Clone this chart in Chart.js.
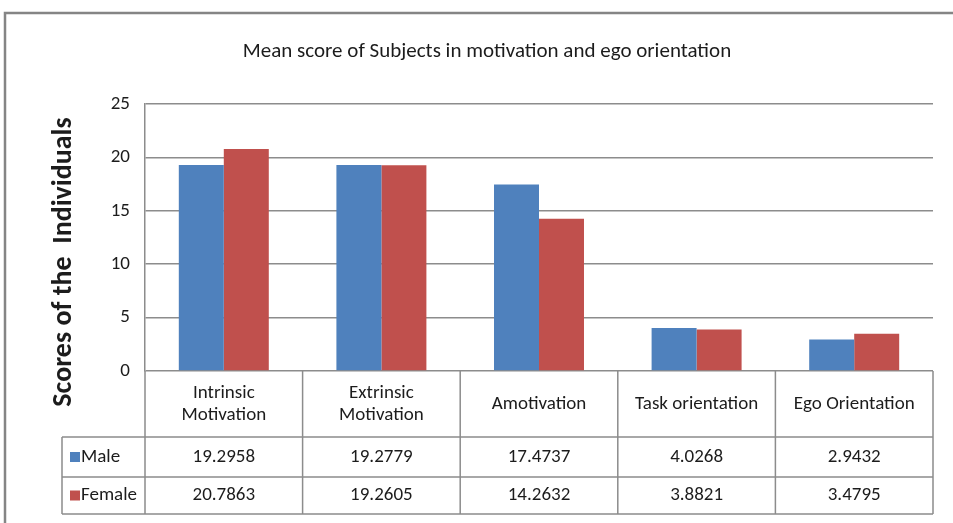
<!DOCTYPE html>
<html>
<head>
<meta charset="utf-8">
<script src="https://cdn.jsdelivr.net/npm/chart.js@4/dist/chart.umd.min.js"></script>
<style>
  html, body { margin: 0; padding: 0; background: #fff; }
  #wrap { position: relative; width: 953px; height: 523px; }
  canvas { display: block; }
</style>
</head>
<body>
<div id="wrap"><canvas id="c" width="953" height="523"></canvas></div>
<script>
// Data
const categories = [["Intrinsic", "Motivation"], ["Extrinsic", "Motivation"], ["Amotivation"], ["Task orientation"], ["Ego Orientation"]];
const maleScores = [19.2958, 19.2779, 17.4737, 4.0268, 2.9432];
const femaleScores = [20.7863, 19.2605, 14.2632, 3.8821, 3.4795];
const seriesNames = ["Male", "Female"];
const yTickValues = [0, 5, 10, 15, 20, 25];
const chartTitle = "Mean score of Subjects in motivation and ego orientation";
const yAxisTitle = "Scores of the  Individuals";

const seriesColors = ["#4F81BD", "#C0504D"];
const FONT = 'Carlito, "Open Sans", "Noto Sans", sans-serif';
const TEXT = "#1c1c1c";
const LINE = "#8c8c8c";

// Frame, title, y-axis title and the data table under the plot
const decorations = {
  id: "decorations",
  beforeDraw(chart) {
    const ctx = chart.ctx;
    ctx.save();
    ctx.strokeStyle = "#858585";
    ctx.lineWidth = 2.5;
    ctx.beginPath();
    ctx.moveTo(5, 523); ctx.lineTo(5, 13); ctx.lineTo(953, 13);
    ctx.stroke();
    ctx.restore();
  },
  afterDraw(chart) {
    const { ctx, chartArea: a } = chart;
    const xs = chart.scales.x;
    const n = categories.length;
    const step = (a.right - a.left) / n;
    const edges = [];
    for (let i = 0; i <= n; i++) edges.push(i < n ? xs.getPixelForValue(i) - step / 2 : xs.getPixelForValue(n - 1) + step / 2);
    const legendLeft = 62;
    const rowY = [a.bottom, a.bottom + 66, a.bottom + 106, a.bottom + 143];

    ctx.save();
    // title
    ctx.fillStyle = TEXT;
    ctx.font = "21px " + FONT;
    ctx.textAlign = "center";
    ctx.textBaseline = "middle";
    ctx.fillText(chartTitle, 487, 52);

    // y-axis title
    ctx.save();
    ctx.translate(64, 262);
    ctx.rotate(-Math.PI / 2);
    ctx.font = "bold 28px " + FONT;
    ctx.fillText(yAxisTitle, 0, 0);
    ctx.restore();

    // table grid
    ctx.strokeStyle = LINE;
    ctx.lineWidth = 1.5;
    ctx.beginPath();
    edges.forEach(x => { ctx.moveTo(x, rowY[0]); ctx.lineTo(x, rowY[3]); });
    ctx.moveTo(legendLeft, rowY[1]); ctx.lineTo(legendLeft, rowY[3]);
    for (let r = 1; r <= 3; r++) { ctx.moveTo(legendLeft, rowY[r]); ctx.lineTo(edges[n], rowY[r]); }
    ctx.stroke();

    // category headers
    ctx.font = "19px " + FONT;
    ctx.fillStyle = TEXT;
    const headMid = (rowY[0] + rowY[1]) / 2;
    categories.forEach((lines, i) => {
      const cx = xs.getPixelForValue(i);
      const lh = 22;
      lines.forEach((t, k) => ctx.fillText(t, cx, headMid + (k - (lines.length - 1) / 2) * lh));
    });

    // value rows with legend keys
    const seriesData = [maleScores, femaleScores];
    seriesData.forEach((vals, s) => {
      const cy = (rowY[s + 1] + rowY[s + 2]) / 2;
      ctx.fillStyle = seriesColors[s];
      ctx.fillRect(70, cy - 5, 10, 10);
      ctx.fillStyle = TEXT;
      ctx.textAlign = "left";
      ctx.font = "19px " + FONT;
      ctx.fillText(seriesNames[s], 81, cy);
      ctx.textAlign = "center";
      vals.forEach((v, i) => ctx.fillText(v.toFixed(4), xs.getPixelForValue(i), cy));
    });
    ctx.restore();
  }
};

new Chart(document.getElementById("c"), {
  type: "bar",
  data: {
    labels: categories.map(c => c.join(" ")),
    datasets: [
      { label: seriesNames[0], data: maleScores, backgroundColor: seriesColors[0], borderWidth: 0 },
      { label: seriesNames[1], data: femaleScores, backgroundColor: seriesColors[1], borderWidth: 0 }
    ]
  },
  options: {
    responsive: false,
    animation: false,
    layout: { padding: { top: 104, right: 20, bottom: 152, left: 0 } },
    datasets: { bar: { categoryPercentage: 0.571, barPercentage: 1 } },
    plugins: { legend: { display: false }, title: { display: false }, tooltip: { enabled: false } },
    scales: {
      x: { display: false },
      y: {
        min: 0, max: 25,
        afterFit(scale) { scale.width = 145; },
        afterBuildTicks(scale) { scale.ticks = yTickValues.map(v => ({ value: v })); },
        ticks: { padding: 15, color: TEXT, font: { family: FONT, size: 19 } },
        grid: { color: LINE, lineWidth: 1.5, drawTicks: false },
        border: { display: true, color: LINE, width: 1.5 }
      }
    }
  },
  plugins: [decorations]
});
</script>
</body>
</html>
